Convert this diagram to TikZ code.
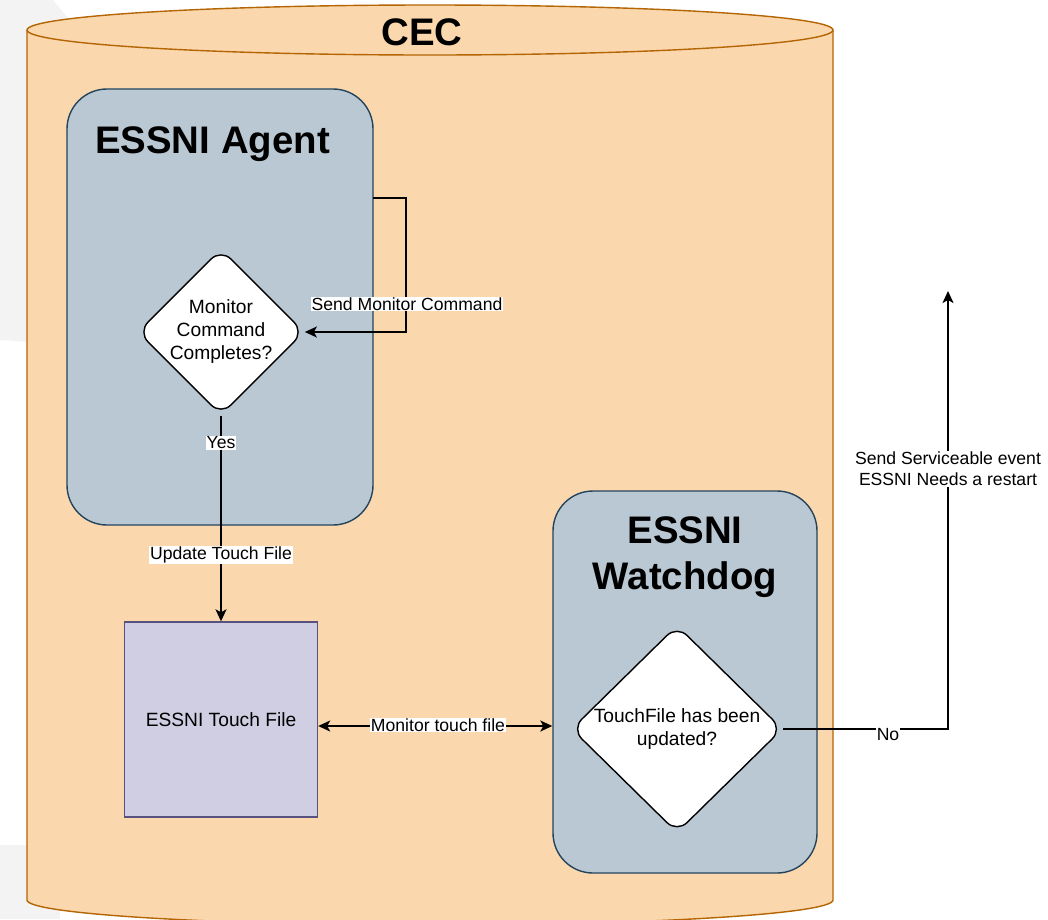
\documentclass[tikz,border=0pt]{standalone}
\usepackage{fontspec}
\setmainfont{Liberation Sans}
\usetikzlibrary{shapes.geometric,arrows.meta}
\definecolor{bggray}{HTML}{F3F3F4}
\definecolor{cylfill}{HTML}{FAD7AC}
\definecolor{cylline}{HTML}{B46504}
\definecolor{boxfill}{HTML}{BAC8D3}
\definecolor{boxline}{HTML}{23445D}
\definecolor{filefill}{HTML}{D0CEE2}
\definecolor{fileline}{HTML}{56517E}
\tikzset{
  x=1pt,y=1pt,
  txt/.style={font=\fontsize{19.2}{23}\selectfont, align=center},
  title/.style={font=\fontsize{38.4}{46}\selectfont\bfseries, align=center},
  container/.style={draw=boxline, fill=boxfill, line width=1.4pt, rounded corners=40pt, inner sep=0pt},
  decision/.style={diamond, draw=black, fill=white, line width=1.4pt, rounded corners=14pt, inner sep=0pt, txt},
  filebox/.style={rectangle, draw=fileline, fill=filefill, line width=1.4pt, inner sep=0pt, txt},
  conn/.style={draw=black, line width=1.6pt, -{Stealth[length=12pt,width=11pt,inset=3pt]}},
  biconn/.style={draw=black, line width=1.6pt, {Stealth[length=12pt,width=11pt,inset=3pt]}-{Stealth[length=12pt,width=11pt,inset=3pt]}},
  lbl/.style={fill=white, inner sep=1pt, font=\fontsize{17.6}{21}\selectfont, align=center}
}
\begin{document}
\begin{tikzpicture}
\useasboundingbox (0,0) rectangle (1048,-919);
\clip (0,0) rectangle (1048,-919);
\fill[white] (0,0) rectangle (1048,-919);
% faint background shapes
\fill[bggray] (0,0) -- (53,0) -- (90,-45) -- (90,-346) -- (0,-340) -- cycle;
\fill[bggray] (0,-845) rectangle (60,-919);
% cylinder
\path[fill=cylfill, draw=cylline, line width=1.4pt]
  (27,-30) -- (27,-900) arc[start angle=180, end angle=360, x radius=403, y radius=25]
  -- (833,-30) arc[start angle=0, end angle=180, x radius=403, y radius=25] -- cycle;
\draw[cylline, line width=1.4pt] (27,-30) arc[start angle=180, end angle=360, x radius=403, y radius=25];
\node[title] (cec) at (422,-32.5) {CEC};
% containers
\node[container, minimum width=306pt, minimum height=436pt] (agent) at (220,-307) {};
\node[title, anchor=base] (agenttitle) at (212.5,-153) {ESSNI Agent};
\node[container, minimum width=264pt, minimum height=382pt] (wd) at (685,-682) {};
\node[title] (wdtitle) at (685,-557) {ESSNI\\Watchdog};
% decisions and file
\node[decision, minimum width=150pt, minimum height=148pt] (d1) at (221,-332) {Monitor\\Command\\Completes?};
\node[decision, minimum width=211pt, minimum height=206pt] (d2) at (677,-729) {TouchFile has been\\updated?};
\node[filebox, minimum width=193pt, minimum height=195pt] (touch) at (221,-719.5) {ESSNI Touch File};
% coordinates
\coordinate (ls) at (373,-198);
\coordinate (mt) at (0,-726);
\coordinate (up) at (948,-291);
% connectors
\draw[conn] (ls) -- (406,-198) |- (d1.east);
\node[lbl] (l1) at (407,-304) {Send Monitor Command};
\draw[conn] (d1.south) -- (touch.north);
\node[lbl] (l2) at (221,-443) {Yes};
\node[lbl] (l3) at (221,-555) {Update Touch File};
\draw[biconn] (touch.east |- mt) -- (wd.west |- mt);
\node[lbl] (l4) at (438,-725) {Monitor touch file};
\draw[conn] (d2.east) -| (up);
\node[lbl] (l5) at (888,-735) {No};
\node[lbl] (l6) at (948,-469) {Send Serviceable event\\ESSNI Needs a restart};
\end{tikzpicture}
\end{document}
